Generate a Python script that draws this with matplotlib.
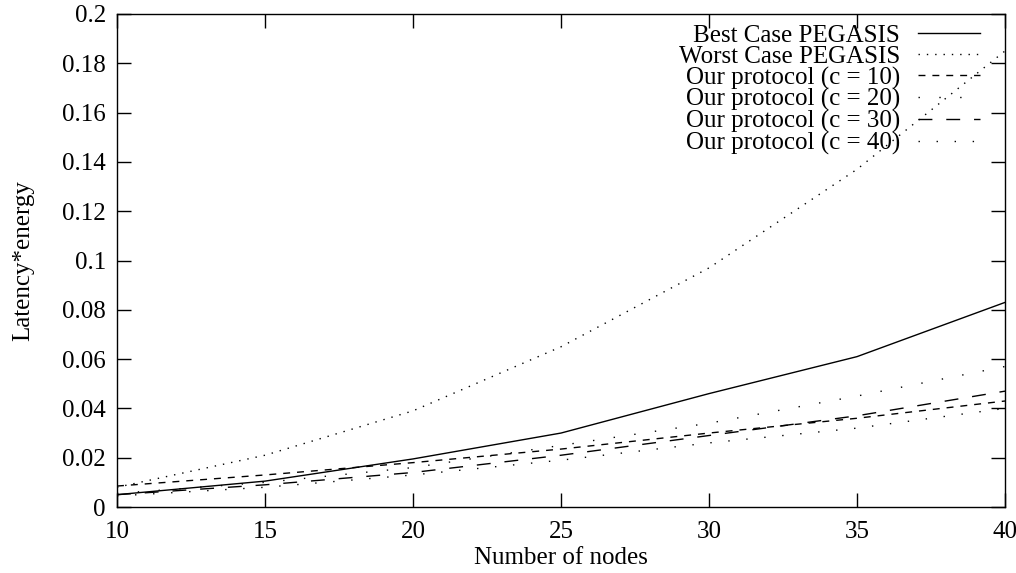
import matplotlib
matplotlib.use("Agg")
import matplotlib.pyplot as plt

plt.rcParams['font.family'] = ['Liberation Serif', 'DejaVu Serif']

nodes = [10, 15, 20, 25, 30, 35, 40]
best = [0.005, 0.0105, 0.0195, 0.030, 0.046, 0.061, 0.083]
worst = [0.008, 0.021, 0.039, 0.065, 0.097, 0.137, 0.185]
c10 = [0.0085, 0.013, 0.018, 0.0235, 0.030, 0.036, 0.043]
c20 = [0.0055, 0.010, 0.016, 0.025, 0.034, 0.045, 0.057]
c30 = [0.005, 0.009, 0.014, 0.021, 0.029, 0.037, 0.047]
c40 = [0.0045, 0.008, 0.013, 0.019, 0.026, 0.032, 0.040]

labels = ["Best Case PEGASIS", "Worst Case PEGASIS", "Our protocol (c = 10)",
          "Our protocol (c = 20)", "Our protocol (c = 30)", "Our protocol (c = 40)"]

fig = plt.figure(figsize=(10.16, 5.73), dpi=100)
ax = fig.add_axes([117/1016, 1-507/573, (1005-117)/1016, (507-14)/573])

lw = 1.0
ax.plot(nodes, best, color='k', lw=lw, label=labels[0])
ax.plot(nodes, worst, color='k', lw=lw, linestyle=(0, (1, 5)), label=labels[1])
ax.plot(nodes, c10, color='k', lw=lw, linestyle=(0, (5, 5)), label=labels[2])
ax.plot(nodes, c20, color='k', lw=lw, linestyle=(0, (1, 14)), label=labels[3])
ax.plot(nodes, c30, color='k', lw=lw, linestyle=(0, (10, 10)), label=labels[4])
ax.plot(nodes, c40, color='k', lw=lw, linestyle=(0, (1, 12)), label=labels[5])

ax.set_xlim(10, 40)
ax.set_ylim(0, 0.2)
ax.set_xticks([10, 15, 20, 25, 30, 35, 40])
ax.set_yticks([0, 0.02, 0.04, 0.06, 0.08, 0.1, 0.12, 0.14, 0.16, 0.18, 0.2])
ax.set_yticklabels(["0", "0.02", "0.04", "0.06", "0.08", "0.1", "0.12", "0.14", "0.16", "0.18", "0.2"])
ax.tick_params(direction='in', length=10, width=1, top=True, right=True, labelsize=18, pad=8)
ax.tick_params(axis='x', pad=10)
for s in ax.spines.values():
    s.set_linewidth(1)

ax.set_xlabel("Number of nodes", fontsize=18, labelpad=3)
ax.set_ylabel("Latency*energy", fontsize=18, labelpad=20)

leg = ax.legend(loc='upper right', bbox_to_anchor=(1 - 15/888, 1), frameon=False,
                markerfirst=False, fontsize=18, handlelength=2.5, labelspacing=-0.05,
                borderaxespad=0, borderpad=0.4, handletextpad=0.7)
for t in leg.get_texts():
    t.set_ha('right')
leg._legend_box.align = "right"

plt.savefig('out.png', dpi=100)
